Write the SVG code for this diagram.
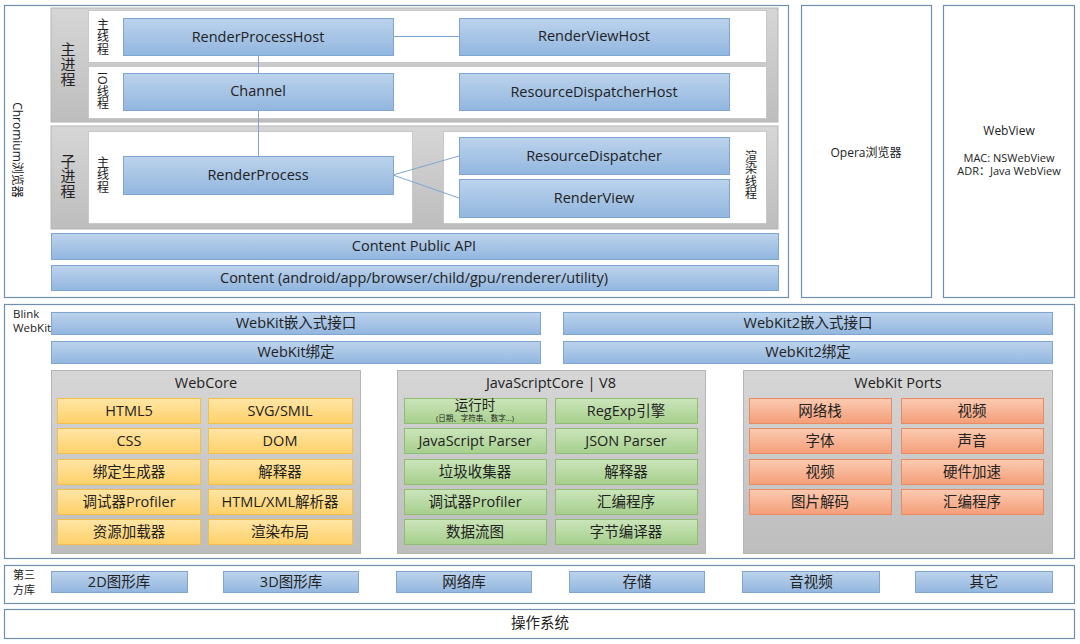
<svg xmlns="http://www.w3.org/2000/svg" width="1080" height="644" viewBox="0 0 1080 644">
<defs>
<linearGradient id="gb" x1="0" y1="0" x2="0" y2="1"><stop offset="0" stop-color="#bcd3ec"/><stop offset="1" stop-color="#92b6df"/></linearGradient>
<linearGradient id="gg" x1="0" y1="0" x2="0" y2="1"><stop offset="0" stop-color="#d6d6d6"/><stop offset="1" stop-color="#bdbdbd"/></linearGradient>
<linearGradient id="gy" x1="0" y1="0" x2="0" y2="1"><stop offset="0" stop-color="#ffe6a6"/><stop offset="1" stop-color="#fed069"/></linearGradient>
<linearGradient id="gn" x1="0" y1="0" x2="0" y2="1"><stop offset="0" stop-color="#cbe5bb"/><stop offset="1" stop-color="#a6cf8c"/></linearGradient>
<linearGradient id="go" x1="0" y1="0" x2="0" y2="1"><stop offset="0" stop-color="#fbcbb2"/><stop offset="1" stop-color="#f49e78"/></linearGradient>
</defs>
<style>
text{font-family:"Open Sans","Noto Sans","Noto Sans CJK SC",sans-serif;fill:#222;}
.t{font-size:14.5px;text-anchor:middle;dominant-baseline:central;}
.s{font-size:12px;}
.c{text-anchor:middle;}
text.v,text.vb{font-family:"Noto Sans CJK SC",sans-serif;writing-mode:vertical-rl;text-anchor:middle;}
.v{font-size:12px;letter-spacing:0.5px;}
.vb{font-size:15px;}
.frame{fill:#fff;stroke:#6f8fb2;stroke-width:1.2;}
.blue{fill:url(#gb);stroke:#7fa6d2;stroke-width:1;}
.grey{fill:url(#gg);stroke:#b5b5b5;stroke-width:1;}
.white{fill:#fff;stroke:#c8c8c8;stroke-width:1;}
.yel{fill:url(#gy);stroke:#f3bf48;stroke-width:1;}
.grn{fill:url(#gn);stroke:#8fbd72;stroke-width:1;}
.org{fill:url(#go);stroke:#e98b62;stroke-width:1;}
.ln{stroke:#7fa6d2;stroke-width:1;fill:none;}
</style>
<rect width="1080" height="644" fill="#fff"/>

<g id="chromium">
<rect class="frame" x="4.5" y="5.5" width="784" height="292"/>
<text class="s" transform="translate(17,150) rotate(90)" text-anchor="middle" dominant-baseline="central">Chromium浏览器</text>
</g>

<g id="main-process">
<rect class="grey" x="51" y="8" width="727" height="114"/>
<text class="vb" x="68" y="64">主进程</text>
<rect class="white" x="88.5" y="10.5" width="678" height="52"/>
<rect class="white" x="88.5" y="66.5" width="678" height="52"/>
<text class="v" x="103" y="37">主线程</text>
<text class="v" x="103" y="91">IO线程</text>
</g>

<g id="sub-process">
<rect class="grey" x="51" y="126" width="727" height="103"/>
<text class="vb" x="68" y="176">子进程</text>
<rect class="white" x="88.5" y="131.5" width="324" height="92"/>
<rect class="white" x="443.5" y="131.5" width="323" height="92"/>
<text class="v" x="103" y="175">主线程</text>
<text class="v" x="751" y="175">渲染线程</text>
</g>

<g id="connectors">
<line class="ln" x1="393" y1="36.5" x2="459" y2="36.5"/>
<line class="ln" x1="258.5" y1="55" x2="258.5" y2="73"/>
<line class="ln" x1="258.5" y1="110" x2="258.5" y2="156"/>
<line class="ln" x1="393" y1="175" x2="459" y2="156"/>
<line class="ln" x1="393" y1="175" x2="459" y2="198"/>
</g>

<g id="rph"><rect class="blue" x="123.5" y="18.5" width="270" height="37"/><text class="t" x="258" y="36">RenderProcessHost</text></g>
<g id="rvh"><rect class="blue" x="459.5" y="18.5" width="270" height="37"/><text class="t" x="594" y="35">RenderViewHost</text></g>
<g id="channel"><rect class="blue" x="123.5" y="73.5" width="270" height="37"/><text class="t" x="258" y="90">Channel</text></g>
<g id="rdh"><rect class="blue" x="459.5" y="73.5" width="270" height="37"/><text class="t" x="594" y="91">ResourceDispatcherHost</text></g>
<g id="rp"><rect class="blue" x="123.5" y="156.5" width="270" height="38"/><text class="t" x="258" y="174">RenderProcess</text></g>
<g id="rd"><rect class="blue" x="459.5" y="137.5" width="270" height="37"/><text class="t" x="594" y="155">ResourceDispatcher</text></g>
<g id="rv"><rect class="blue" x="459.5" y="179.5" width="270" height="38"/><text class="t" x="594" y="197">RenderView</text></g>
<g id="cpapi"><rect class="blue" x="51.5" y="233.5" width="727" height="26"/><text class="t" x="414" y="245">Content Public API</text></g>
<g id="content"><rect class="blue" x="51.5" y="265.5" width="727" height="25"/><text class="t" x="414" y="277">Content (android/app/browser/child/gpu/renderer/utility)</text></g>

<g id="opera">
<rect class="frame" x="801.5" y="5.5" width="130" height="292"/>
<text class="t" x="866" y="152" style="font-size:12px">Opera浏览器</text>
</g>
<g id="webview">
<rect class="frame" x="943.5" y="5.5" width="131" height="292"/>
<text class="t" x="1009" y="130" style="font-size:12px">WebView</text>
<text class="c" style="font-size:11px"><tspan x="1009" y="162">MAC: NSWebView</tspan><tspan x="1009" y="175">ADR：Java WebView</tspan></text>
</g>

<g id="blink">
<rect class="frame" x="4.5" y="304.5" width="1070" height="254"/>
<text style="font-size:11.5px"><tspan x="13" y="318">Blink</tspan><tspan x="13" y="332">WebKit</tspan></text>
</g>
<g id="wk-embed"><rect class="blue" x="51.5" y="312.5" width="489" height="22"/><text class="t" x="296" y="322.5">WebKit嵌入式接口</text></g>
<g id="wk-bind"><rect class="blue" x="51.5" y="341.5" width="489" height="22"/><text class="t" x="296" y="351.5">WebKit绑定</text></g>
<g id="wk2-embed"><rect class="blue" x="563.5" y="312.5" width="489" height="22"/><text class="t" x="808" y="322.5">WebKit2嵌入式接口</text></g>
<g id="wk2-bind"><rect class="blue" x="563.5" y="341.5" width="489" height="22"/><text class="t" x="808" y="351.5">WebKit2绑定</text></g>

<g id="webcore">
<rect class="grey" x="51.5" y="370.5" width="309" height="183"/>
<text class="t" x="206" y="382">WebCore</text>
<rect class="yel" x="57.5" y="398.5" width="143" height="25"/><text class="t" x="129" y="410">HTML5</text>
<rect class="yel" x="208.5" y="398.5" width="144" height="25"/><text class="t" x="280" y="410">SVG/SMIL</text>
<rect class="yel" x="57.5" y="428.5" width="143" height="25"/><text class="t" x="129" y="440">CSS</text>
<rect class="yel" x="208.5" y="428.5" width="144" height="25"/><text class="t" x="280" y="440">DOM</text>
<rect class="yel" x="57.5" y="459.5" width="143" height="25"/><text class="t" x="129" y="471">绑定生成器</text>
<rect class="yel" x="208.5" y="459.5" width="144" height="25"/><text class="t" x="280" y="471">解释器</text>
<rect class="yel" x="57.5" y="489.5" width="143" height="25"/><text class="t" x="129" y="501">调试器Profiler</text>
<rect class="yel" x="208.5" y="489.5" width="144" height="25"/><text class="t" x="280" y="501">HTML/XML解析器</text>
<rect class="yel" x="57.5" y="519.5" width="143" height="25"/><text class="t" x="129" y="531">资源加载器</text>
<rect class="yel" x="208.5" y="519.5" width="144" height="25"/><text class="t" x="280" y="531">渲染布局</text>
</g>

<g id="jscore">
<rect class="grey" x="397.5" y="370.5" width="308" height="183"/>
<text class="t" x="551" y="382">JavaScriptCore | V8</text>
<rect class="grn" x="404.5" y="398.5" width="142" height="25"/><text class="c" style="font-size:13.5px"><tspan x="475" y="410">运行时</tspan><tspan x="475" y="421" style="font-size:7.5px">(日期、字符串、数字...)</tspan></text>
<rect class="grn" x="555.5" y="398.5" width="142" height="25"/><text class="t" x="626" y="410">RegExp引擎</text>
<rect class="grn" x="404.5" y="428.5" width="142" height="25"/><text class="t" x="475" y="440">JavaScript Parser</text>
<rect class="grn" x="555.5" y="428.5" width="142" height="25"/><text class="t" x="626" y="440">JSON Parser</text>
<rect class="grn" x="404.5" y="459.5" width="142" height="25"/><text class="t" x="475" y="471">垃圾收集器</text>
<rect class="grn" x="555.5" y="459.5" width="142" height="25"/><text class="t" x="626" y="471">解释器</text>
<rect class="grn" x="404.5" y="489.5" width="142" height="25"/><text class="t" x="475" y="501">调试器Profiler</text>
<rect class="grn" x="555.5" y="489.5" width="142" height="25"/><text class="t" x="626" y="501">汇编程序</text>
<rect class="grn" x="404.5" y="519.5" width="142" height="25"/><text class="t" x="475" y="531">数据流图</text>
<rect class="grn" x="555.5" y="519.5" width="142" height="25"/><text class="t" x="626" y="531">字节编译器</text>
</g>

<g id="ports">
<rect class="grey" x="743.5" y="370.5" width="309" height="183"/>
<text class="t" x="898" y="382">WebKit Ports</text>
<rect class="org" x="749.5" y="398.5" width="142" height="25"/><text class="t" x="820" y="410">网络栈</text>
<rect class="org" x="901.5" y="398.5" width="142" height="25"/><text class="t" x="972" y="410">视频</text>
<rect class="org" x="749.5" y="428.5" width="142" height="25"/><text class="t" x="820" y="440">字体</text>
<rect class="org" x="901.5" y="428.5" width="142" height="25"/><text class="t" x="972" y="440">声音</text>
<rect class="org" x="749.5" y="459.5" width="142" height="25"/><text class="t" x="820" y="471">视频</text>
<rect class="org" x="901.5" y="459.5" width="142" height="25"/><text class="t" x="972" y="471">硬件加速</text>
<rect class="org" x="749.5" y="489.5" width="142" height="25"/><text class="t" x="820" y="501">图片解码</text>
<rect class="org" x="901.5" y="489.5" width="142" height="25"/><text class="t" x="972" y="501">汇编程序</text>
</g>

<g id="third-party">
<rect class="frame" x="4.5" y="565.5" width="1070" height="38"/>
<text style="font-size:11px"><tspan x="13" y="579">第三</tspan><tspan x="13" y="594">方库</tspan></text>
<rect class="blue" x="51.5" y="571.5" width="136" height="21"/><text class="t" x="119" y="581">2D图形库</text>
<rect class="blue" x="223.5" y="571.5" width="135" height="21"/><text class="t" x="291" y="581">3D图形库</text>
<rect class="blue" x="396.5" y="571.5" width="135" height="21"/><text class="t" x="464" y="581">网络库</text>
<rect class="blue" x="569.5" y="571.5" width="135" height="21"/><text class="t" x="637" y="581">存储</text>
<rect class="blue" x="742.5" y="571.5" width="137" height="21"/><text class="t" x="811" y="581">音视频</text>
<rect class="blue" x="915.5" y="571.5" width="137" height="21"/><text class="t" x="984" y="581">其它</text>
</g>

<g id="os">
<rect class="frame" x="4.5" y="609.5" width="1070" height="29"/>
<text class="t" x="540" y="622">操作系统</text>
</g>
</svg>
